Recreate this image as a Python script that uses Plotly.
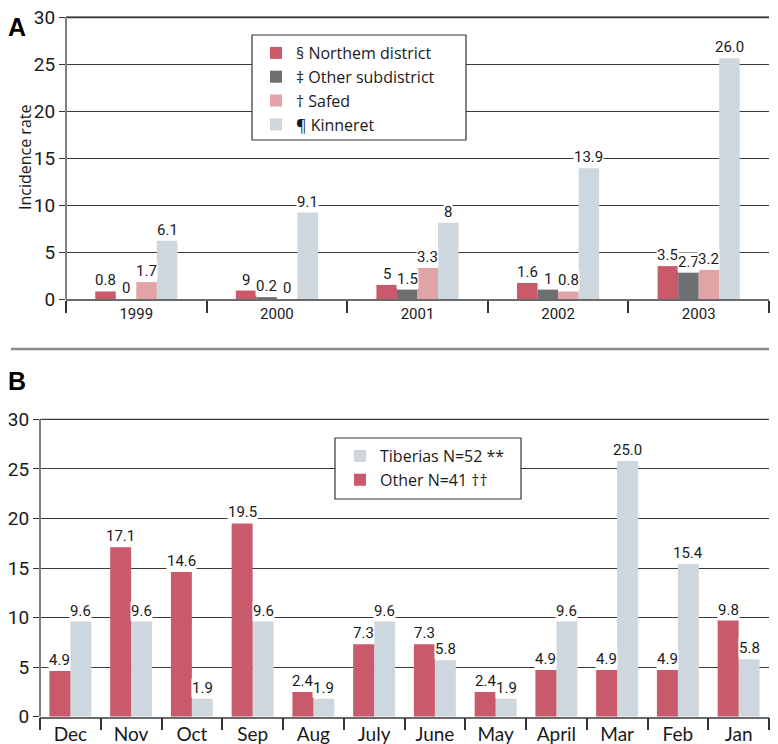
import plotly.graph_objects as go

# ---------------- data ----------------
years = ["1999", "2000", "2001", "2002", "2003"]
series_a_names = ["§ Northem district", "‡ Other subdistrict", "† Safed", "¶ Kinneret"]
northern = [0.8, 0.9, 1.5, 1.7, 3.5]
other_sub = [0.0, 0.2, 1.0, 1.0, 2.8]
safed = [1.8, 0.0, 3.3, 0.8, 3.1]
kinneret = [6.2, 9.2, 8.1, 13.9, 25.6]
northern_lbl = ["0.8", "9", "5", "1.6", "3.5"]
other_sub_lbl = ["0", "0.2", "1.5", "1", "2.7"]
safed_lbl = ["1.7", "0", "3.3", "0.8", "3.2"]
kinneret_lbl = ["6.1", "9.1", "8", "13.9", "26.0"]

months = ["Dec", "Nov", "Oct", "Sep", "Aug", "July", "June", "May", "April", "Mar", "Feb", "Jan"]
other_b = [4.6, 17.1, 14.6, 19.5, 2.5, 7.3, 7.3, 2.5, 4.7, 4.7, 4.7, 9.7]
tiberias = [9.6, 9.6, 1.8, 9.6, 1.8, 9.6, 5.7, 1.8, 9.6, 25.8, 15.4, 5.8]
other_b_lbl = ["4.9", "17.1", "14.6", "19.5", "2.4", "7.3", "7.3", "2.4", "4.9", "4.9", "4.9", "9.8"]
tiberias_lbl = ["9.6", "9.6", "1.9", "9.6", "1.9", "9.6", "5.8", "1.9", "9.6", "25.0", "15.4", "5.8"]
y_ticks = [0, 5, 10, 15, 20, 25, 30]

# ---------------- style ----------------
RED = "#C85A6B"
DARK = "#6E6F71"
PINK = "#E0A3A6"
BLUE = "#CED6DE"
GRID = "#3a3a3a"
AXIS = "#808080"
TXT = "#1a1a1a"
NARROW = "Liberation Sans Narrow, Arial Narrow, Roboto, sans-serif"
SANS = "Lato, Open Sans, sans-serif"
OPEN = "Open Sans, Lato, sans-serif"

# the page body has an 8px margin, so the figure is laid out in page pixels minus 8
OFF = 8
W, H = 778 - OFF, 744 - OFF
def px(x):
    return (x - OFF) / W
def py(y):
    return 1 - (y - OFF) / H

Y_TOP = 30.4  # small headroom so the 30 gridline is drawn inside the plot area
def ydomain(pix0, pix30):
    per = (pix0 - pix30) / 30.0
    return [py(pix0), py(pix0 - per * Y_TOP)]

fig = go.Figure()
annotations = []

# Panel A
wA = 0.146
colorsA = [RED, DARK, PINK, BLUE]
valsA = [northern, other_sub, safed, kinneret]
lblsA = [northern_lbl, other_sub_lbl, safed_lbl, kinneret_lbl]
startA = -2 * wA
for i, (name, vals, lbls, col) in enumerate(zip(series_a_names, valsA, lblsA, colorsA)):
    off = startA + i * wA
    fig.add_trace(go.Bar(x=list(range(len(years))), y=vals, offset=off, width=wA,
                         marker=dict(color=col, line=dict(width=0)), name=name,
                         xaxis="x", yaxis="y", legend="legend"))
    for j, (v, t) in enumerate(zip(vals, lbls)):
        annotations.append(dict(x=j + off + wA / 2, y=v, xref="x", yref="y", text=t,
                                showarrow=False, yanchor="bottom", yshift=1,
                                font=dict(family=NARROW, size=15, color=TXT),
                                bgcolor="white", borderpad=0))

# Panel B
wB = 0.345
for name, vals, lbls, col, off in [("Tiberias N=52 **", tiberias, tiberias_lbl, BLUE, 0.0),
                                   ("Other N=41 ††", other_b, other_b_lbl, RED, -wB)]:
    fig.add_trace(go.Bar(x=list(range(len(months))), y=vals, offset=off, width=wB,
                         marker=dict(color=col, line=dict(width=0)), name=name,
                         xaxis="x2", yaxis="y2", legend="legend2"))
    for j, (v, t) in enumerate(zip(vals, lbls)):
        annotations.append(dict(x=j + off + wB / 2, y=v, xref="x2", yref="y2", text=t,
                                showarrow=False, yanchor="bottom", yshift=1,
                                font=dict(family=NARROW, size=15, color=TXT),
                                bgcolor="white", borderpad=0))

# Titles / panel letters
annotations += [
    dict(x=px(17), y=py(27), xref="paper", yref="paper", text="<b>A</b>", showarrow=False,
         xanchor="center", yanchor="middle",
         font=dict(family="Liberation Sans, Arial, sans-serif", size=25, color="black")),
    dict(x=px(17), y=py(381), xref="paper", yref="paper", text="<b>B</b>", showarrow=False,
         xanchor="center", yanchor="middle",
         font=dict(family="Liberation Sans, Arial, sans-serif", size=25, color="black")),
    dict(x=px(25), y=py(157), xref="paper", yref="paper", text="Incidence rate",
         xanchor="center", yanchor="middle",
         textangle=-90, showarrow=False, font=dict(family=OPEN, size=16, color=TXT)),
]

shapes = [
    dict(type="line", xref="paper", yref="paper", x0=px(11), x1=px(769),
         y0=py(349), y1=py(349), line=dict(color="#8a8a8a", width=2.5)),
    # legend frames
    dict(type="rect", xref="paper", yref="paper", x0=px(252), x1=px(466),
         y0=py(140), y1=py(35), line=dict(color="#333", width=1.2), fillcolor="white",
         layer="above"),
    dict(type="rect", xref="paper", yref="paper", x0=px(335), x1=px(521),
         y0=py(499), y1=py(438), line=dict(color="#333", width=1.2), fillcolor="white",
         layer="above"),
    # top (30) gridline of panel A, drawn in page coordinates
    dict(type="line", xref="paper", yref="paper", x0=px(66), x1=px(769),
         y0=py(17.5), y1=py(17.5), layer="above", line=dict(color=GRID, width=1.5)),
]

def xaxis_cfg(n, domain, labels, font, fsize, standoff):
    return dict(domain=domain, range=[-0.5, n - 0.5], tickmode="array", automargin=False,
                tickvals=list(range(n)), ticktext=labels, ticks="", showgrid=False,
                zeroline=False, showline=True, linecolor="#6a6a6a", linewidth=1.5,
                tickfont=dict(family=font, size=fsize, color=TXT),
                ticklabelstandoff=standoff, ticklabeloverflow="allow",
                minor=dict(tickmode="array", tickvals=[k - 0.5 for k in range(n + 1)],
                           ticks="outside", ticklen=12, tickcolor="#333", tickwidth=1.5,
                           showgrid=False))

def yaxis_cfg(domain, anchor):
    return dict(domain=domain, anchor=anchor, range=[0, Y_TOP], tickmode="array",
                automargin=False, ticklabeloverflow="allow",
                tickvals=y_ticks, ticks="outside", ticklen=6, tickcolor="#333",
                showgrid=True, gridcolor=GRID, gridwidth=1.2, zeroline=False,
                showline=False,
                tickfont=dict(family=NARROW, size=19, color=TXT))

# vertical axis lines spanning 0..30 and the top gridline at 30 (as in the reference)
for xr, yr in [("x", "y"), ("x2", "y2")]:
    shapes.append(dict(type="line", xref=xr + " domain", yref=yr, x0=0, x1=0, y0=0, y1=max(y_ticks),
                       line=dict(color=AXIS, width=2)))
    shapes.append(dict(type="line", xref=xr + " domain", yref=yr, x0=0, x1=1,
                       y0=max(y_ticks), y1=max(y_ticks), layer="below",
                       line=dict(color=GRID, width=1.2)))

fig.update_layout(
    width=W, height=H, margin=dict(l=0, r=0, t=0, b=0, autoexpand=False),
    paper_bgcolor="white", plot_bgcolor="white", barmode="overlay",
    xaxis=dict(xaxis_cfg(len(years), [px(66), px(769)], years, NARROW, 15, 0), anchor="y"),
    yaxis=yaxis_cfg(ydomain(299, 17), "x"),
    xaxis2=dict(xaxis_cfg(len(months), [px(40), px(769)], months, SANS, 19, 0), anchor="y2"),
    yaxis2=yaxis_cfg(ydomain(716.7, 419.3), "x2"),
    legend=dict(x=px(256), y=py(36), xanchor="left", yanchor="top",
                bgcolor="rgba(0,0,0,0)", borderwidth=0,
                font=dict(family=OPEN, size=16, color=TXT), traceorder="normal"),
    legend2=dict(x=px(340), y=py(439), xanchor="left", yanchor="top",
                 bgcolor="rgba(0,0,0,0)", borderwidth=0,
                 font=dict(family=OPEN, size=16, color=TXT), traceorder="normal"),
    annotations=annotations, shapes=shapes, showlegend=True,
)

fig.write_html("out.html")
